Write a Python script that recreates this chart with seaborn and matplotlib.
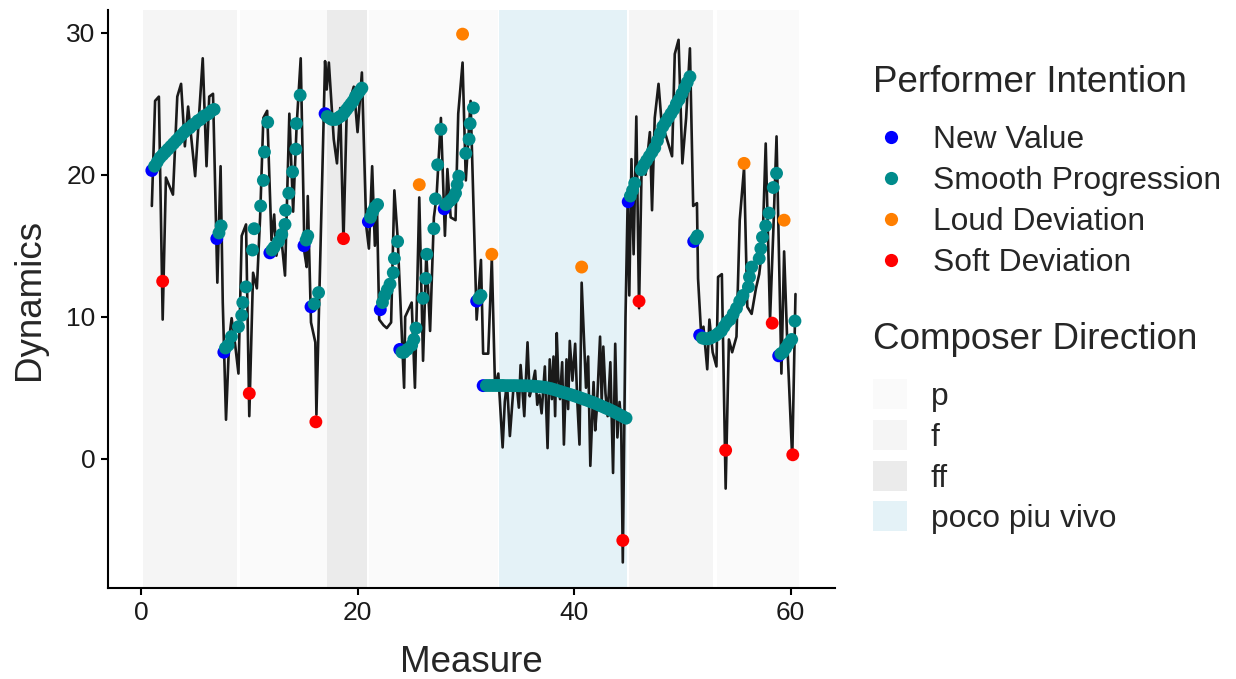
import numpy as np
import pandas as pd
import matplotlib
matplotlib.use("Agg")
import matplotlib.pyplot as plt
import seaborn as sns
from matplotlib.patches import Patch
from matplotlib.lines import Line2D

# ---------------- data ----------------
# Composer direction shaded regions
region_labels = ["f", "p", "ff", "p", "poco piu vivo", "f", "p"]
region_start = [0.2, 9.1, 17.2, 21.1, 33.1, 45.1, 53.2]
region_end = [8.9, 17.2, 20.9, 33.0, 44.9, 52.8, 60.8]
direction_order = ["p", "f", "ff", "poco piu vivo"]
direction_colors = ["#FAFAFA", "#F5F5F5", "#EBEBEB", "#E4F2F7"]

# Performed dynamics (black line)
line_x = [1.0, 1.3, 1.65, 2.0, 2.3, 2.95, 3.35, 3.7, 4.05, 4.35, 5.0, 5.7, 6.05, 6.3, 6.65,
          7.05, 7.35, 7.55, 7.85, 8.15, 8.37, 8.7, 9.0, 9.3, 9.7, 10.0, 10.35, 10.7, 11.0, 11.3,
          11.65, 12.05, 12.3, 12.5, 12.9, 13.3, 13.7, 14.05, 14.37, 14.75, 15.1, 15.3, 15.4, 15.7,
          16.1, 16.2, 17.0, 17.15, 17.35, 17.8, 18.1, 18.4, 18.7, 19.0, 19.65, 20.0, 20.4, 20.8,
          21.05, 21.35, 21.6, 21.8, 22.0, 22.4, 22.7, 23.1, 23.4, 23.7, 24.3, 24.4, 25.0, 25.3,
          25.7, 26.05, 26.35, 26.7, 27.05, 27.3, 27.7, 28.07, 28.3, 28.6, 29.05, 29.3, 29.7, 30.0,
          30.44, 31.0, 31.4, 31.6, 32.07, 32.4, 32.7, 33.0, 33.4, 33.6, 33.8, 34.07, 34.4, 34.7,
          34.9, 35.06, 35.4, 35.7, 35.9, 36.1, 36.4, 36.6, 36.8, 37.0, 37.3, 37.55, 37.75, 37.95,
          38.1, 38.25, 38.4, 38.55, 38.7, 38.9, 39.06, 39.3, 39.45, 39.6, 39.85, 40.1, 40.3, 40.5,
          40.7, 41.1, 41.3, 41.5, 41.8, 41.95, 42.1, 42.4, 42.55, 42.7, 42.9, 43.1, 43.35, 43.6,
          43.8, 44.0, 44.2, 44.35, 44.5, 44.75, 44.95, 45.1, 45.3, 45.5, 45.75, 46.0,
          46.25, 46.6, 47.0, 47.2, 47.45, 47.8, 48.1, 48.5, 49.05, 49.3, 49.65, 50.0, 50.35, 50.7,
          51.0, 51.35, 51.45, 51.75, 51.95, 52.3, 52.5, 52.8, 53.15, 53.3, 53.65, 54.0, 54.3, 54.6,
          55.0, 55.3, 55.7, 56.0, 56.4, 56.8, 57.1, 57.4, 57.7, 58.1, 58.4, 58.7, 59.15, 59.4,
          59.7, 60.15, 60.45]
line_y = [17.8, 25.2, 25.5, 9.8, 19.8, 18.6, 25.5, 26.4, 22.0, 24.8, 19.9, 28.2, 20.6, 25.5, 25.7,
          12.4, 20.6, 11.0, 2.75, 8.5, 9.9, 8.0, 6.0, 15.7, 16.5, 3.0, 13.1, 12.0, 17.0, 24.0,
          24.5, 15.4, 17.2, 14.3, 16.0, 12.9, 24.3, 17.4, 23.4, 28.2, 14.5, 13.5, 18.5, 9.6,
          8.2, 3.1, 28.0, 26.0, 27.9, 22.5, 20.8, 24.7, 15.3, 24.5, 26.2, 23.0, 27.2, 16.4,
          14.8, 20.6, 15.0, 17.5, 9.8, 9.4, 9.2, 9.6, 18.9, 15.6, 5.0, 10.0, 11.0, 5.0,
          18.4, 6.9, 14.5, 9.0, 17.0, 18.5, 24.0, 15.7, 20.4, 17.0, 16.8, 24.3, 27.9, 19.6,
          25.2, 9.8, 14.0, 7.4, 7.4, 14.1, 5.0, 6.0, 0.8, 4.0, 5.4, 1.6, 5.0, 5.2,
          3.6, 6.6, 3.0, 8.2, 4.4, 5.0, 6.2, 3.8, 4.5, 3.2, 6.5, 0.75, 7.0, 4.2,
          7.2, 3.0, 8.85, 5.5, 4.2, 6.8, 1.0, 7.0, 3.5, 8.3, 5.5, 8.1, 4.0, 1.0,
          12.4, 5.0, 7.2, -0.5, 5.4, 2.0, 3.5, 8.6, 4.0, 7.9, 4.6, 3.0, 6.8, -1.0,
          8.1, 1.5, 4.0, 2.5, -7.3, 10.0, 18.2, 11.5, 21.1, 14.4, 24.1, 10.6,
          21.0, 20.0, 23.0, 17.5, 24.0, 26.4, 23.5, 22.7, 21.3, 28.5, 29.5, 20.8, 24.0, 28.9,
          17.8, 18.0, 12.7, 8.6, 9.3, 6.3, 9.8, 7.5, 6.5, 12.8, 13.0, -2.1, 8.4, 7.5,
          8.6, 16.8, 20.5, 10.7, 10.2, 12.0, 13.0, 15.0, 22.2, 9.8, 16.0, 22.7, 6.0, 14.6,
          8.0, 0.0, 11.6]

# Performer intention points
new_x = [1.0, 7.0, 7.65, 11.9, 15.05, 15.7, 17.0, 21.0, 22.1, 23.9, 28.0, 31.0, 31.6,
         45.0, 51.05, 51.6, 58.9]
new_y = [20.3, 15.5, 7.5, 14.5, 15.0, 10.7, 24.3, 16.7, 10.5, 7.7, 17.6, 11.1, 5.15,
         18.1, 15.3, 8.7, 7.25]

smooth_x = [1.25, 1.5, 1.75, 2.0, 2.25, 2.5, 2.75, 3.0, 3.25, 3.5, 3.75, 4.0, 4.25, 4.5, 4.75,
            5.0, 5.25, 5.5, 5.75, 6.0, 6.25, 6.5, 6.75,
            7.2, 7.4,
            7.8, 8.05, 8.35, 9.0, 9.3, 9.4, 9.7, 10.3, 10.45, 11.05, 11.3, 11.4, 11.7,
            12.1, 12.3, 12.7, 13.0, 13.3, 13.35, 13.65, 14.0, 14.3, 14.35, 14.7,
            15.25, 15.4,
            16.0, 16.4,
            17.2, 17.4, 17.6, 17.8, 18.0, 18.2, 18.4, 18.6, 18.8, 19.0, 19.2, 19.4, 19.6, 19.8,
            20.0, 20.2, 20.4,
            21.2, 21.4, 21.6, 21.85,
            22.3, 22.5, 22.75, 23.0, 23.3, 23.4, 23.7,
            24.1, 24.3, 24.6, 25.0, 25.2, 25.4, 26.05, 26.3, 26.4, 27.05, 27.2, 27.4, 27.7,
            28.15, 28.3, 28.6, 28.85, 29.05, 29.2, 29.35, 30.0, 30.3, 30.4, 30.7,
            31.2, 31.4,
            31.9, 32.2, 32.5, 32.8, 33.1, 33.4, 33.7, 34.0, 34.3, 34.6, 34.9, 35.2, 35.5, 35.8,
            36.1, 36.4, 36.7, 37.0, 37.3, 37.6, 37.9, 38.2, 38.5, 38.8, 39.1, 39.4, 39.7, 40.0,
            40.3, 40.6, 40.9, 41.2, 41.5, 41.8, 42.1, 42.4, 42.7, 43.0, 43.3, 43.6, 43.9, 44.2,
            44.5, 44.8,
            45.2, 45.4, 45.6, 46.2, 46.45, 46.7, 46.95, 47.2, 47.45, 47.7, 47.95, 48.2, 48.45,
            48.7, 48.95, 49.2, 49.45, 49.7, 49.95, 50.2, 50.45, 50.7,
            51.25, 51.4,
            51.85, 52.1, 52.35, 52.6, 52.85, 53.1, 53.35, 53.6, 53.85, 54.1, 54.4, 54.7, 55.0,
            55.3, 55.6, 56.1, 56.2, 56.4, 57.1, 57.25, 57.4, 57.7, 58.0, 58.4, 58.7,
            59.1, 59.3, 59.55, 59.8, 60.1, 60.4]
smooth_y = [20.6, 20.9, 21.2, 21.4, 21.6, 21.8, 22.0, 22.2, 22.4, 22.6, 22.8, 23.0, 23.2, 23.3, 23.5,
            23.6, 23.8, 23.9, 24.1, 24.2, 24.3, 24.5, 24.6,
            15.9, 16.4,
            7.8, 8.0, 8.6, 9.3, 10.1, 11.0, 12.1, 14.7, 16.2, 17.8, 19.6, 21.6, 23.7,
            14.7, 14.9, 15.3, 15.8, 16.5, 17.5, 18.7, 20.2, 21.8, 23.6, 25.6,
            15.4, 15.7,
            10.9, 11.7,
            24.1, 24.0, 23.9, 23.9, 23.9, 24.0, 24.1, 24.2, 24.4, 24.6, 24.8, 25.0, 25.2, 25.5,
            25.7, 25.9, 26.1,
            17.0, 17.4, 17.7, 17.9,
            11.0, 11.5, 11.9, 12.3, 13.1, 14.1, 15.3,
            7.5, 7.5, 7.7, 8.0, 8.4, 9.2, 11.3, 12.7, 14.4, 16.2, 18.3, 20.7, 23.2,
            17.9, 18.0, 18.2, 18.4, 18.7, 19.3, 19.9, 21.5, 22.5, 23.6, 24.7,
            11.3, 11.5,
            5.16, 5.16, 5.16, 5.16, 5.16, 5.16, 5.15, 5.15, 5.15, 5.15, 5.14, 5.14, 5.14, 5.13,
            5.12, 5.1, 5.08, 5.06, 5.03, 4.98, 4.93, 4.86, 4.79, 4.72, 4.65, 4.58, 4.51, 4.44,
            4.36, 4.28, 4.2, 4.12, 4.03, 3.95, 3.85, 3.75, 3.65, 3.55, 3.45, 3.34, 3.22, 3.1,
            2.98, 2.86,
            18.5, 18.9, 19.4, 20.35, 20.7, 21.0, 21.3, 21.6, 21.9, 22.4, 22.9, 23.4, 23.7,
            24.0, 24.3, 24.6, 25.0, 25.3, 25.7, 26.1, 26.5, 26.9,
            15.5, 15.7,
            8.5, 8.45, 8.45, 8.5, 8.6, 8.7, 8.85, 9.0, 9.3, 9.6, 9.8, 10.2, 10.6,
            11.1, 11.5, 12.1, 12.8, 13.5, 14.1, 14.8, 15.6, 16.4, 17.3, 19.1, 20.1,
            7.4, 7.5, 7.8, 8.1, 8.4, 9.7]

loud_x = [25.7, 29.7, 32.4, 40.7, 55.7, 59.4]
loud_y = [19.3, 29.9, 14.4, 13.5, 20.8, 16.8]

soft_x = [2.0, 10.0, 16.15, 18.7, 44.5, 46.0, 54.0, 58.3, 60.2]
soft_y = [12.5, 4.6, 2.6, 15.5, -5.75, 11.1, 0.6, 9.55, 0.28]

intention_order = ["New Value", "Smooth Progression", "Loud Deviation", "Soft Deviation"]
intention_colors = ["#0000FF", "#008B8B", "#FF7F00", "#FF0000"]

# ---------------- frames ----------------
line_df = pd.DataFrame({"Measure": line_x, "Dynamics": line_y})
pts_df = pd.concat([
    pd.DataFrame({"Measure": new_x, "Dynamics": new_y, "Intention": "New Value"}),
    pd.DataFrame({"Measure": smooth_x, "Dynamics": smooth_y, "Intention": "Smooth Progression"}),
    pd.DataFrame({"Measure": loud_x, "Dynamics": loud_y, "Intention": "Loud Deviation"}),
    pd.DataFrame({"Measure": soft_x, "Dynamics": soft_y, "Intention": "Soft Deviation"}),
], ignore_index=True)

# ---------------- plot ----------------
sns.set_style("ticks")
plt.rcParams["font.family"] = ["Liberation Sans", "DejaVu Sans"]

fig = plt.figure(figsize=(12.36, 6.79), dpi=100)
ax = fig.add_axes([108 / 1236, 1 - 588 / 679, (835 - 108) / 1236, (588 - 10) / 679])

dir_col = dict(zip(direction_order, direction_colors))
for lab, s, e in zip(region_labels, region_start, region_end):
    ax.axvspan(s, e, color=dir_col[lab], lw=0, zorder=0)

sns.lineplot(data=line_df, x="Measure", y="Dynamics", sort=False, estimator=None,
             color="#1A1A1A", lw=1.9, ax=ax, zorder=2)
sns.scatterplot(data=pts_df, x="Measure", y="Dynamics", hue="Intention",
                hue_order=intention_order, palette=dict(zip(intention_order, intention_colors)),
                s=86, linewidth=0, legend=False, ax=ax, zorder=3)

ax.set_xlim(-3.05, 64.1)
ax.set_ylim(-9.1, 31.6)
ax.set_xticks([0, 20, 40, 60])
ax.set_yticks([0, 10, 20, 30])
for side in ["top", "right"]:
    ax.spines[side].set_visible(False)
for side in ["left", "bottom"]:
    ax.spines[side].set_linewidth(1.5)
    ax.spines[side].set_color("black")
ax.tick_params(axis="both", length=5, width=1.5, color="black", labelsize=19,
               labelcolor="#1A1A1A", pad=4)
ax.set_xlabel("Measure", fontsize=26.5, labelpad=15)
ax.set_ylabel("Dynamics", fontsize=26.5, labelpad=14)
ax.grid(False)

# legends
h1 = [Line2D([0], [0], marker="o", ls="none", markersize=9.5, markerfacecolor=c,
             markeredgewidth=0) for c in intention_colors]
leg1 = fig.legend(h1, intention_order, title="Performer Intention", loc="upper left",
                  bbox_to_anchor=(873 / 1236, 1 - 65 / 679), frameon=False, fontsize=22.9,
                  title_fontsize=26.5, alignment="left", handlelength=1.13, handletextpad=0.76,
                  labelspacing=0.35, borderpad=0, borderaxespad=0)
leg1._legend_box.sep = 18
h2 = [Patch(facecolor=c, edgecolor="none") for c in direction_colors]
leg2 = fig.legend(h2, direction_order, title="Composer Direction", loc="upper left",
                  bbox_to_anchor=(873 / 1236, 1 - 322 / 679), frameon=False, fontsize=22.9,
                  title_fontsize=26.5, alignment="left", handlelength=1.07, handleheight=1.07,
                  handletextpad=0.75, labelspacing=0.25, borderpad=0, borderaxespad=0)
leg2._legend_box.sep = 16

fig.savefig("out.png", dpi=100)
